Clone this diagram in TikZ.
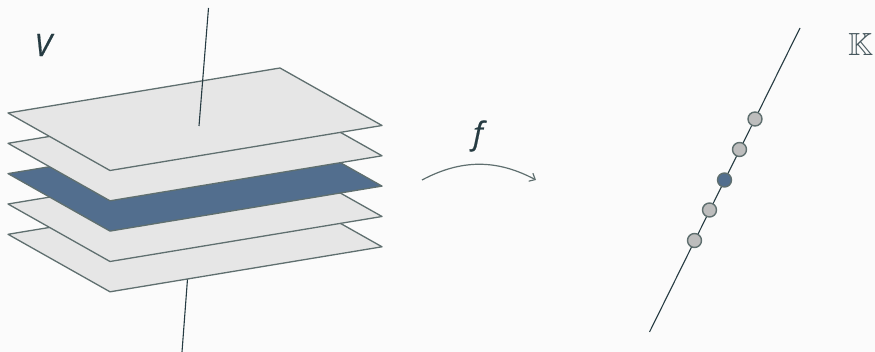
\documentclass[tikz,border=0pt]{standalone}
\usepackage{amsmath}
\usepackage{amssymb}
\usepackage{xcolor}
\usepackage{fontspec}
\setmainfont{Open Sans}
\usepackage{tikz}
\usetikzlibrary{positioning, arrows.meta}
\definecolor{pagegray}{HTML}{FBFBFB}
\definecolor{planegray}{HTML}{E6E6E6}
\definecolor{planeblue}{HTML}{526E8E}
\definecolor{edgegray}{HTML}{5F6F6F}
\definecolor{inkdark}{HTML}{263B42}
\definecolor{dotgray}{HTML}{BDBDBD}
\tikzset{
  plane/.style={draw=edgegray, line width=1.3pt, line join=round},
  axis/.style={draw=inkdark, line width=1.1pt},
  dot/.style={circle, draw=edgegray, line width=1.4pt, minimum size=14pt, inner sep=0pt},
  biglabel/.style={text=inkdark, font=\fontsize{31}{31}\selectfont\itshape\addfontfeature{FakeBold=0.6}, inner sep=0pt}
}
\begin{document}
\begin{tikzpicture}[x=1pt,y=-1pt]
\useasboundingbox[fill=pagegray] (0,0) rectangle (875,352);
\coordinate (vtop) at (208.5,8);
\coordinate (vmid) at (199,126);
\coordinate (vlow) at (187.5,279);
\coordinate (vbot) at (182,352);
\coordinate (ktop) at (800,28);
\coordinate (kbot) at (649.5,332);
\draw[axis] (vlow) -- (vbot);
\foreach \off/\col in {121.3/planegray, 91/planegray, 60.6/planeblue, 30.3/planegray, 0/planegray} {
\begin{scope}[shift={(0,\off)}]
\draw[plane, fill=\col] (8,113) -- (110,170.5) -- (382,125.5) -- (280,68) -- cycle;
\end{scope}
}
\draw[axis] (vtop) -- (vmid);
\draw[axis] (ktop) -- (kbot);
\node[dot, fill=dotgray] (k1) at (755,119) {};
\node[dot, fill=dotgray] (k2) at (739.5,149.5) {};
\node[dot, fill=planeblue] (k3) at (724.5,180) {};
\node[dot, fill=dotgray] (k4) at (709.5,210) {};
\node[dot, fill=dotgray] (k5) at (694.5,240.5) {};
\node[biglabel] (vlabel) at (43,45) {V};
\node[biglabel] (flabel) at (478,136) {f};
\node[text=inkdark!85, inner sep=0pt, font=\fontsize{32}{32}\selectfont] (klabel) at (860.5,44) {$\mathbb{K}$};
\coordinate (fstart) at (422,180);
\coordinate (fend) at (536,180);
\draw[edgegray, line width=1.2pt, -{Straight Barb[length=5pt,width=9pt]}] (fstart) to[out=28, in=152] (fend);
\end{tikzpicture}
\end{document}
